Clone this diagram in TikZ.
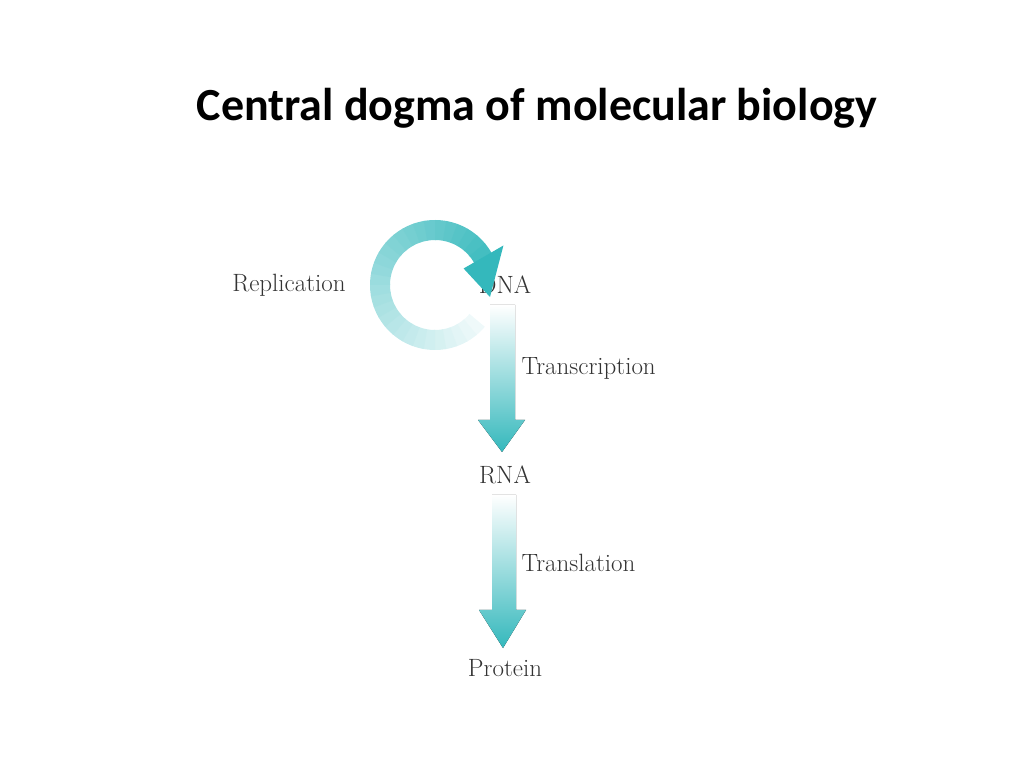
\documentclass[tikz,border=0pt]{standalone}
\usepackage{fontspec}
\newfontfamily\titlefont{Carlito}
\usepackage{tikz}
\usetikzlibrary{calc}
\definecolor{dogma}{HTML}{34B8BC}
\tikzset{
  molecule/.style={font=\fontsize{25}{28}\selectfont, text=black!80},
  process/.style={font=\fontsize{25}{28}\selectfont, text=black!80, right},
  flow/.style={shading=axis, top color=white, bottom color=dogma, draw=none},
}
\begin{document}
\begin{tikzpicture}[x=1pt,y=1pt]
\useasboundingbox (0,0) rectangle (1024,768);
\node[font=\titlefont\bfseries\fontsize{46}{50}\selectfont] (title) at (537,660) {Central dogma of molecular biology};

%% molecules
\node[molecule] (dna) at (505,483) {DNA};
\node[molecule] (rna) at (505,293) {RNA};
\node[molecule] (protein) at (505,100) {Protein};

%% processes
\node[molecule] (replication) at (289,483) {Replication};
\node[process] (transcription) at (518,400) {Transcription};
\node[process] (translation) at (518,205) {Translation};

%% replication loop
\coordinate (loop) at (435,483);
\foreach \a in {0,...,28}{
  \pgfmathsetmacro\p{8+3*\a}
  \pgfmathsetmacro\s{-40-10*\a}
  \pgfmathsetmacro\e{-51-10*\a}
  \fill[dogma!\p!white] ($(loop)+(\s:45)$) arc (\s:\e:45)
    -- ($(loop)+(\e:65)$) arc (\e:\s:65) -- cycle;
}
\fill[dogma] ($(loop)+(-330:33)$) -- ($(loop)+(-330:79)$) -- ($(loop)+(0:55)+(0,-12)$) -- cycle;

%% transcription and translation
\fill[flow] (490,463) -- (515,463) -- (515,348) -- (525,348) -- (502,316) -- (478,348) -- (490,348) -- cycle;
\fill[flow] (492,273) -- (516,273) -- (516,158) -- (526,158) -- (503,120) -- (479,158) -- (492,158) -- cycle;
\end{tikzpicture}
\end{document}
